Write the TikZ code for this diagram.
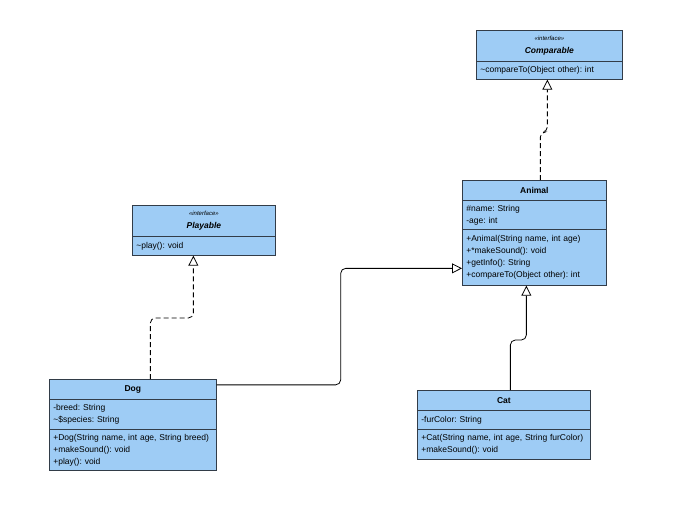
\documentclass[tikz,border=0pt]{standalone}
\usepackage{fontspec}
\setmainfont{Liberation Sans}
\usetikzlibrary{arrows.meta,positioning,calc}
\definecolor{umlfill}{RGB}{158,204,245}
\definecolor{umlline}{RGB}{50,60,72}
\frenchspacing
\tikzset{
  classpart/.style={draw=umlline, fill=umlfill, line width=0.7pt, inner xsep=4pt, inner ysep=0pt,
    font=\fontsize{8.5}{12}\selectfont, align=left},
  headpart/.style={classpart, align=center, font=\fontsize{8.5}{13}\selectfont\bfseries, anchor=north west},
  realize/.style={line width=0.8pt, dash pattern=on 5pt off 3pt, rounded corners=5pt,
    -{Triangle[open, length=10pt, width=10pt, fill=white]}},
  inherit/.style={line width=0.8pt, rounded corners=5pt,
    -{Triangle[open, length=10pt, width=10pt, fill=white]}}
}
\newcommand{\stereo}{{\fontsize{6}{7}\selectfont\mdseries\itshape «interface»}}

\begin{document}
\begin{tikzpicture}[x=1pt, y=1pt, node distance=-0.7pt]
  \fill[white] (0,0) rectangle (693,-508);
  \useasboundingbox (0,0) rectangle (693,-508);

  % interfaces
  \node[headpart, text width=138pt, minimum height=31pt] (cmphead) at (476,-30) {\stereo\\\textit{Comparable}};
  \node[classpart, text width=138pt, minimum height=18pt, below=of cmphead] (cmpops) {\textasciitilde compareTo(Object other): int};

  \node[headpart, text width=135pt, minimum height=31pt] (plyhead) at (132,-205) {\stereo\\\textit{Playable}};
  \node[classpart, text width=135pt, minimum height=19pt, below=of plyhead] (plyops) {\textasciitilde play(): void};

  % classes
  \node[headpart, text width=136pt, minimum height=20pt] (anhead) at (462,-180) {Animal};
  \node[classpart, text width=136pt, minimum height=29pt, below=of anhead] (anattr) {\#name: String\\-age: int};
  \node[classpart, text width=136pt, minimum height=56pt, below=of anattr] (anops)
    {+Animal(String name, int age)\\+*makeSound(): void\\+getInfo(): String\\+compareTo(Object other): int};

  \node[headpart, text width=159pt, minimum height=20pt] (doghead) at (49,-379) {Dog};
  \node[classpart, text width=159pt, minimum height=30pt, below=of doghead] (dogattr) {-breed: String\\\textasciitilde\$species: String};
  \node[classpart, text width=159pt, minimum height=41pt, below=of dogattr] (dogops)
    {\mbox{+Dog(String name, int age, String breed)}\\+makeSound(): void\\+play(): void};

  \node[headpart, text width=165pt, minimum height=20pt] (cathead) at (417,-390) {Cat};
  \node[classpart, text width=165pt, minimum height=19pt, below=of cathead] (catattr) {-furColor: String};
  \node[classpart, text width=165pt, minimum height=30pt, below=of catattr] (catops)
    {\mbox{+Cat(String name, int age, String furColor)}\\+makeSound(): void};

  % relations
  \draw[realize] ([xshift=6pt]anhead.north) -- ++(0,48) -| ([xshift=-2pt]cmpops.south);
  \draw[realize] ([xshift=17.5pt]doghead.north) -- ++(0,61) -| ([xshift=-10.5pt]plyops.south);
  \draw[inherit] ([yshift=4.5pt]doghead.east) -- ++(124,0) |- ([yshift=-11pt]anops.west);
  \draw[inherit] ([xshift=6.5pt]cathead.north) -- ++(0,50) -| ([xshift=-8pt]anops.south);
\end{tikzpicture}
\end{document}
